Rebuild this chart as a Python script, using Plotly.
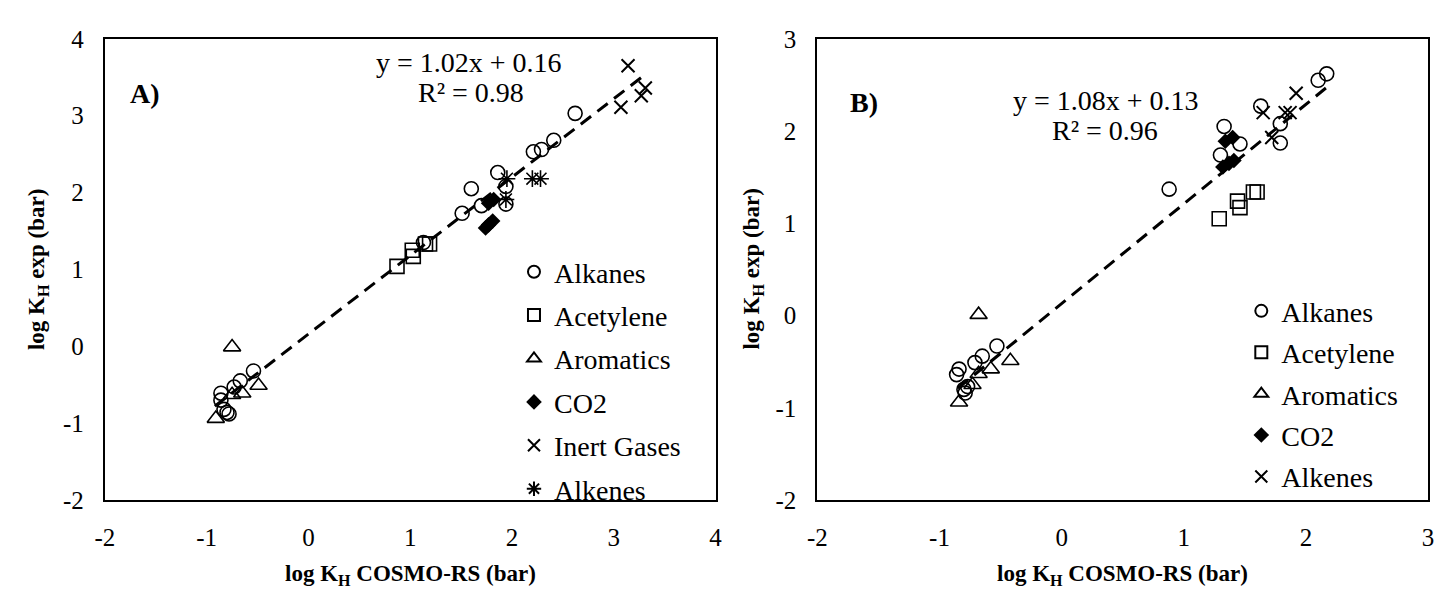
import plotly.graph_objects as go

# ---------------- Panel A ----------------
a_alkanes_x = [-0.54, -0.67, -0.73, -0.86, -0.86, -0.83, -0.80, -0.78, 1.13, 1.51, 1.60, 1.70, 1.86, 1.94, 1.94, 2.21, 2.29, 2.41, 2.62]
a_alkanes_y = [-0.32, -0.45, -0.53, -0.61, -0.70, -0.82, -0.86, -0.88, 1.35, 1.73, 2.05, 1.83, 2.26, 2.08, 1.85, 2.53, 2.56, 2.68, 3.03]
a_acet_x = [0.87, 1.02, 1.03, 1.15, 1.19]
a_acet_y = [1.04, 1.25, 1.17, 1.33, 1.33]
a_arom_x = [-0.75, -0.49, -0.65, -0.75, -0.91]
a_arom_y = [-0.01, -0.51, -0.61, -0.63, -0.94]
a_co2_x = [1.74, 1.77, 1.81, 1.77, 1.82]
a_co2_y = [1.54, 1.58, 1.63, 1.86, 1.91]
a_inert_x = [3.14, 3.07, 3.31, 3.27]
a_inert_y = [3.65, 3.11, 3.36, 3.26]
a_alkenes_x = [1.95, 1.94, 2.20, 2.28]
a_alkenes_y = [2.18, 1.91, 2.18, 2.18]
a_fit = dict(slope=1.02, intercept=0.16, xmin=-0.92, xmax=3.30, r2=0.98)
a_ticks = [-2, -1, 0, 1, 2, 3, 4]

# ---------------- Panel B ----------------
b_alkanes_x = [-0.53, -0.65, -0.71, -0.84, -0.86, -0.80, -0.79, -0.77, 0.88, 1.30, 1.33, 1.46, 1.63, 1.79, 1.79, 2.10, 2.17]
b_alkanes_y = [-0.33, -0.44, -0.51, -0.58, -0.64, -0.80, -0.84, -0.77, 1.37, 1.74, 2.05, 1.86, 2.27, 2.08, 1.87, 2.55, 2.62]
b_acet_x = [1.29, 1.44, 1.46, 1.57, 1.60]
b_acet_y = [1.05, 1.24, 1.17, 1.34, 1.34]
b_arom_x = [-0.68, -0.42, -0.58, -0.68, -0.73, -0.84]
b_arom_y = [0.01, -0.49, -0.58, -0.63, -0.75, -0.94]
b_co2_x = [1.34, 1.40, 1.32, 1.37, 1.41]
b_co2_y = [1.89, 1.93, 1.61, 1.65, 1.68]
b_alkenes_x = [1.65, 1.72, 1.83, 1.87, 1.92]
b_alkenes_y = [2.20, 1.93, 2.20, 2.20, 2.41]
b_fit = dict(slope=1.08, intercept=0.13, xmin=-0.85, xmax=2.20, r2=0.96)
b_ticks = [-2, -1, 0, 1, 2, 3]

SERIF = "Liberation Serif"
BLACK = "black"

fig = go.Figure()

STYLES = {
    "circle": dict(symbol="circle-open", size=14, line=dict(color=BLACK, width=1.6)),
    "square": dict(symbol="square-open", size=14, line=dict(color=BLACK, width=1.6)),
    "triangle": dict(symbol="triangle-up-open", size=15, line=dict(color=BLACK, width=1.6)),
    "diamond": dict(symbol="diamond", size=12, line=dict(color=BLACK, width=0)),
    "cross": dict(symbol="x-thin", size=13, line=dict(color=BLACK, width=2)),
    "star": dict(symbol="asterisk-open", size=14, line=dict(color=BLACK, width=1.6)),
}


def add_series(name, xs, ys, style_key, xa, ya, legend):
    st = STYLES[style_key]
    fig.add_trace(go.Scatter(
        x=xs, y=ys, mode="markers", name=name,
        xaxis=xa, yaxis=ya, legend=legend, legendgroup=legend + name,
        marker=dict(symbol=st["symbol"], size=st["size"], color=BLACK, line=st["line"]),
    ))


def add_fit(fit, xa, ya):
    xs = [fit["xmin"], fit["xmax"]]
    ys = [fit["slope"] * v + fit["intercept"] for v in xs]
    fig.add_trace(go.Scatter(
        x=xs, y=ys, mode="lines", xaxis=xa, yaxis=ya, showlegend=False,
        line=dict(color=BLACK, width=3, dash="13px,8px"), hoverinfo="skip",
    ))


# panel A series
add_series("Alkanes", a_alkanes_x, a_alkanes_y, "circle", "x", "y", "legend")
add_series("Acetylene", a_acet_x, a_acet_y, "square", "x", "y", "legend")
add_series("Aromatics", a_arom_x, a_arom_y, "triangle", "x", "y", "legend")
add_series("CO2", a_co2_x, a_co2_y, "diamond", "x", "y", "legend")
add_series("Inert Gases", a_inert_x, a_inert_y, "cross", "x", "y", "legend")
add_series("Alkenes", a_alkenes_x, a_alkenes_y, "star", "x", "y", "legend")
add_fit(a_fit, "x", "y")

# panel B series
add_series("Alkanes", b_alkanes_x, b_alkanes_y, "circle", "x2", "y2", "legend2")
add_series("Acetylene", b_acet_x, b_acet_y, "square", "x2", "y2", "legend2")
add_series("Aromatics", b_arom_x, b_arom_y, "triangle", "x2", "y2", "legend2")
add_series("CO2", b_co2_x, b_co2_y, "diamond", "x2", "y2", "legend2")
add_series("Alkenes", b_alkenes_x, b_alkenes_y, "cross", "x2", "y2", "legend2")
add_fit(b_fit, "x2", "y2")

W, H = 1442, 601
TOP, BOTTOM = 27, 510
Y_DOM = [1 - BOTTOM / H, 1 - TOP / H]
A_X = (96, 714)
B_X = (817, 1435)


def axis(ticks, **kw):
    return dict(
        showline=True, mirror=True, linecolor=BLACK, linewidth=2,
        showgrid=False, zeroline=False,
        tickmode="array", tickvals=ticks, ticktext=[str(t) for t in ticks],
        ticks="outside", ticklen=14, tickcolor="rgba(0,0,0,0)",
        ticklabeloverflow="allow",
        tickfont=dict(family=SERIF, size=25, color=BLACK),
        range=[ticks[0], ticks[-1]], **kw,
    )


legend_common = dict(
    font=dict(family=SERIF, size=28, color=BLACK),
    bgcolor="rgba(0,0,0,0)", borderwidth=0,
    xanchor="left", yanchor="top",
    itemsizing="constant", itemwidth=30,
)


def note(text, px, py, size=28, angle=0):
    return dict(text=text, x=px / W, y=1 - py / H, xref="paper", yref="paper",
                xanchor="center", yanchor="middle", showarrow=False, textangle=angle,
                font=dict(family=SERIF, size=size, color=BLACK))


def fmt_eq(fit):
    return f"y = {fit['slope']:.2f}x + {fit['intercept']:.2f}"


xtitle = "<b>log K<sub>H</sub> COSMO-RS (bar)</b>"
ytitle = "<b>log K<sub>H</sub> exp (bar)</b>"

fig.update_layout(
    width=W, height=H,
    margin=dict(l=0, r=0, t=0, b=0),
    paper_bgcolor="white", plot_bgcolor="white",
    showlegend=True,
    xaxis=axis(a_ticks, domain=[A_X[0] / W, A_X[1] / W], anchor="y"),
    yaxis=axis(a_ticks, domain=Y_DOM, anchor="x"),
    xaxis2=axis(b_ticks, domain=[B_X[0] / W, B_X[1] / W], anchor="y2"),
    yaxis2=axis(b_ticks, domain=Y_DOM, anchor="x2"),
    legend=dict(x=510 / W, y=1 - 245 / H, tracegroupgap=4, **legend_common),
    legend2=dict(x=1246 / W, y=1 - 286 / H, tracegroupgap=2, **legend_common),
    annotations=[
        note("<b>A)</b>", 137, 84),
        note("<b>B)</b>", 864, 94),
        note(fmt_eq(a_fit), 464, 52),
        note(f"R² = {a_fit['r2']:.2f}", 466, 83),
        note(fmt_eq(b_fit), 1109, 92),
        note(f"R² = {b_fit['r2']:.2f}", 1108, 123),
        note(xtitle, (A_X[0] + A_X[1]) / 2, 588, size=23),
        note(xtitle, (B_X[0] + B_X[1]) / 2, 588, size=23),
        note(ytitle, 29, (TOP + BOTTOM) / 2, size=23, angle=-90),
        note(ytitle, 752, (TOP + BOTTOM) / 2, size=23, angle=-90),
    ],
)

fig.write_html("out.html")
